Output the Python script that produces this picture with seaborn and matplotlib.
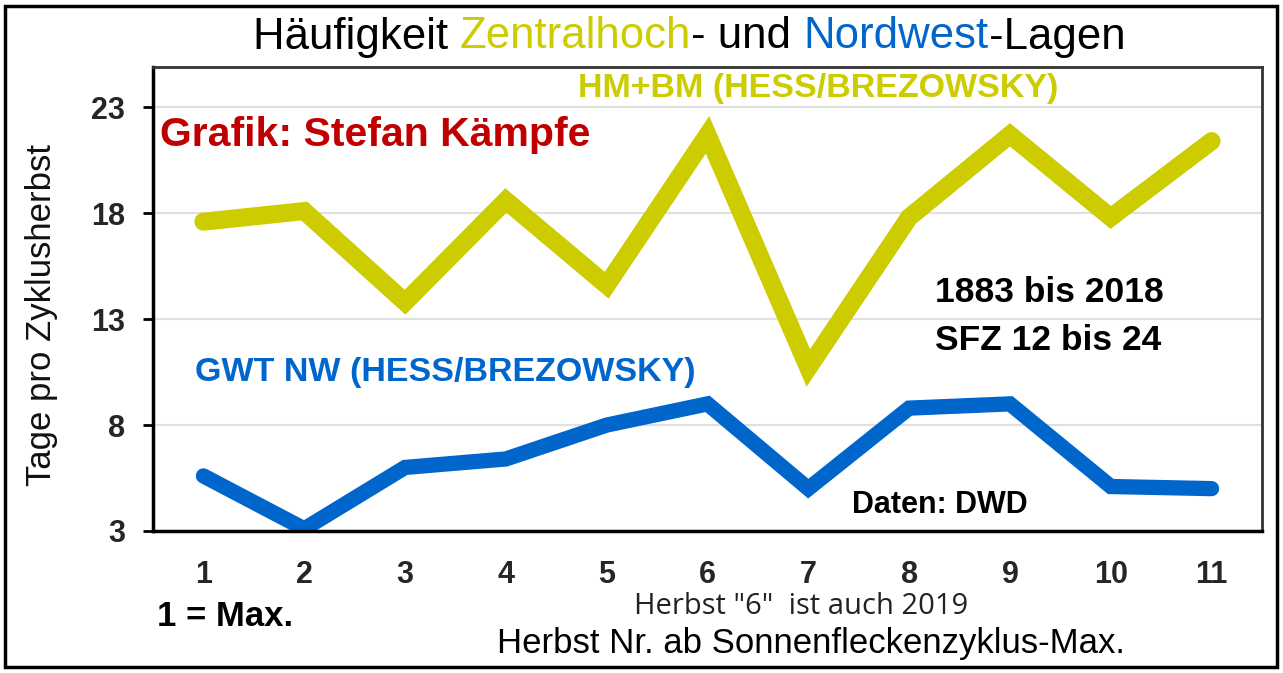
import matplotlib
matplotlib.use("Agg")
import matplotlib.pyplot as plt
import seaborn as sns
import pandas as pd
from matplotlib.patches import Rectangle

herbst = [1, 2, 3, 4, 5, 6, 7, 8, 9, 10, 11]
hm_bm = [17.6, 18.1, 13.8, 18.6, 14.6, 21.7, 10.7, 17.8, 21.7, 17.8, 21.4]
gwt_nw = [5.6, 3.1, 6.0, 6.4, 8.0, 9.0, 5.0, 8.8, 9.0, 5.1, 5.0]
y_ticks = [3, 8, 13, 18, 23]

YELLOW = "#CCCC00"
BLUE = "#0066CC"
RED = "#C00000"

sns.set_style("white")
plt.rcParams["font.family"] = ["Liberation Sans", "DejaVu Sans"]

df = pd.DataFrame({"herbst": herbst * 2,
                   "tage": hm_bm + gwt_nw,
                   "serie": ["HM+BM"] * len(herbst) + ["GWT NW"] * len(herbst)})

W, H = 1283, 673
fig = plt.figure(figsize=(W / 100, H / 100), dpi=100)
ax = fig.add_axes([153 / W, 1 - 531 / H, (1262 - 153) / W, (531 - 67) / H])

sns.lineplot(data=df[df.serie == "HM+BM"], x="herbst", y="tage", ax=ax,
             color=YELLOW, lw=13, solid_capstyle="round", solid_joinstyle="miter", legend=False)
sns.lineplot(data=df[df.serie == "GWT NW"], x="herbst", y="tage", ax=ax,
             color=BLUE, lw=11, solid_capstyle="round", solid_joinstyle="miter", legend=False)

ax.set_xlim(0.5, 11.5)
ax.set_ylim(3, 24.9)
ax.set_yticks(y_ticks)
ax.set_yticklabels([str(v) for v in y_ticks], fontsize=22, fontweight="bold")
ax.set_xticks([i + 0.5 for i in range(0, 12)])
ax.set_xticklabels([])
ax.set_xticks(herbst, minor=True)
ax.set_xticklabels([str(v) for v in herbst], minor=True, fontsize=22, fontweight="bold")
ax.tick_params(axis="x", which="major", direction="out", length=8, width=2.5, color="black")
ax.tick_params(axis="x", which="minor", length=0, pad=21)
ax.tick_params(axis="y", direction="out", length=7, width=2, color="black", pad=13, left=True)
ax.grid(axis="y", color="#E0E0E0", lw=1.5)
ax.set_axisbelow(True)
for side in ["left", "bottom"]:
    ax.spines[side].set_color("black")
    ax.spines[side].set_linewidth(2.5)
for side in ["top", "right"]:
    ax.spines[side].set_color("#333333")
    ax.spines[side].set_linewidth(2)
for sp in ax.spines.values():
    sp.set_visible(True)
ax.set_xlabel("")
ax.set_ylabel("")


def ftext(x, y, s, **kw):
    return fig.text(x / W, 1 - y / H, s, va="center", **kw)


ftext(42, 315, "Tage pro Zyklusherbst", fontsize=25, rotation=90, ha="center", color="#111111")
ftext(578, 88, "HM+BM (HESS/BREZOWSKY)", color=YELLOW, fontsize=24.5, fontweight="bold", ha="left")
ftext(160, 135, "Grafik: Stefan Kämpfe", color=RED, fontsize=29.5, fontweight="bold", ha="left")
ftext(935, 293, "1883 bis 2018", color="black", fontsize=25.5, fontweight="bold", ha="left")
ftext(935, 340, "SFZ 12 bis 24", color="black", fontsize=25.5, fontweight="bold", ha="left")
ftext(195, 372, "GWT NW (HESS/BREZOWSKY)", color=BLUE, fontsize=24.5, fontweight="bold", ha="left")
ftext(852, 505, "Daten: DWD", color="black", fontsize=22, fontweight="bold", ha="left")
ftext(157, 617, "1 = Max.", color="black", fontsize=25, fontweight="bold", ha="left")
ftext(801, 606, 'Herbst "6"  ist auch 2019', color="#222222", fontsize=21, ha="center",
      family=["Open Sans", "DejaVu Sans"])
ftext(811, 643, "Herbst Nr. ab Sonnenfleckenzyklus-Max.", color="black", fontsize=25, ha="center")

# multi-coloured title
parts = [("Häufigkeit ", "black"), ("Zentralhoch", YELLOW), ("- und ", "black"),
         ("Nordwest", BLUE), ("-Lagen", "black")]
fig.canvas.draw()
renderer = fig.canvas.get_renderer()
texts = [ftext(0, 37, s, color=c, fontsize=31.5, ha="left") for s, c in parts]
widths = [t.get_window_extent(renderer=renderer).width for t in texts]
cur = 689 - sum(widths) / 2
for t, w in zip(texts, widths):
    t.set_x(cur / W)
    cur += w

fig.patches.append(Rectangle((5 / W, 1 - 667 / H), 1272 / W, 661 / H,
                             transform=fig.transFigure, fill=False, edgecolor="black", lw=2.5))

fig.savefig("out.png", dpi=100)
